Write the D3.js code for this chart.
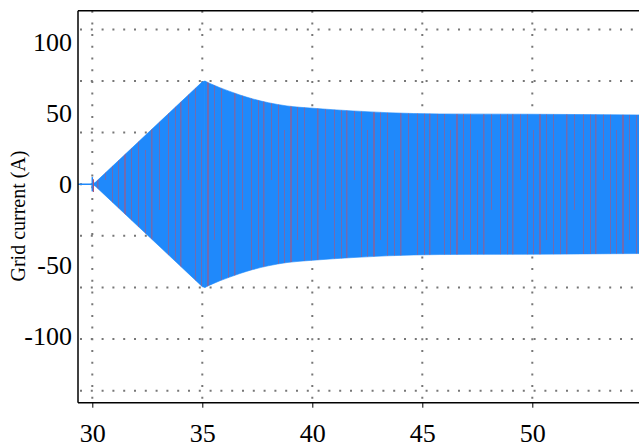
<!DOCTYPE html>
<html>
<head>
<meta charset="utf-8">
<script src="https://cdn.jsdelivr.net/npm/d3@7/dist/d3.min.js"></script>
<style>
  html, body { margin: 0; padding: 0; background: #fff; }
  svg { display: block; }
  svg text { font-family: 'Liberation Serif', 'DejaVu Serif', serif; }
</style>
</head>
<body>
<div id="chart"></div>
<script>
// ---- data ----
const xTicks = [30, 35, 40, 45, 50]
const yLabels = [100, 50, 0, -50, -100]
const yGrid = [108.6, 72.4, 36.2, 0, -36.2, -72.4, -108.6, -144.8]

// current is zero before the converter switches on
const preTime = [29.35, 30.0]
const preValue = [0, 0]
// short spike at switch-on
const spikeTime = [30.0, 30.0]
const spikeValue = [-5, 5]
// envelope (peak amplitude) of the grid current
const envTime = [30.0, 30.15, 35.0, 35.12, 35.3, 35.49, 35.80, 36.25, 36.71, 37.30, 38.0, 38.85, 40.03, 41.85, 43.40, 45.80, 49.90, 54.85]
const envAmp = [0, 1.5, 71.8, 72.4, 71.0, 69.7, 67.7, 65.1, 62.6, 59.8, 57.2, 54.9, 53.3, 51.4, 50.2, 49.3, 49.1, 48.6]

const W = 639, H = 448
const m = { l: 78, t: 10.7, b: 402.7 }
const blue = '#1f89fb'
const red = '#a9567f'
const serif = "'Liberation Serif', 'DejaVu Serif', serif"

const svg = d3.select('#chart').append('svg')
  .attr('width', W).attr('height', H)
  .attr('viewBox', [0, 0, W, H])

const x = d3.scaleLinear().domain([29.35, 54.85]).range([m.l, W])
const y = d3.scaleLinear().domain([-153.2, 121.7]).range([m.b, m.t])

// stripe texture (other phases peeking through the blue trace)
const defs = svg.append('defs')
const pat = defs.append('pattern')
  .attr('id', 'stripes')
  .attr('patternUnits', 'userSpaceOnUse')
  .attr('x', 0).attr('y', 60)
  .attr('width', 83).attr('height', 260)
const stripes = [[2, 0, 260, 1], [9, 40, 200, 1], [14, 0, 260, 1.5], [22, 0, 120, 1],
                 [29, 0, 260, 1], [35, 70, 230, 1], [41, 0, 260, 2], [48, 20, 180, 1],
                 [55, 0, 260, 1], [62, 90, 260, 1], [68, 0, 260, 1.5], [76, 10, 150, 1]]
stripes.forEach(s => {
  pat.append('rect').attr('x', s[0]).attr('y', s[1]).attr('width', s[3]).attr('height', s[2] - s[1])
    .attr('fill', red).attr('opacity', 0.6)
})

// grid
const grid = svg.append('g').attr('stroke', '#777').attr('stroke-width', 2)
grid.selectAll('.hg').data(yGrid).enter().append('line')
  .attr('class', 'hg')
  .attr('x1', m.l + 2).attr('x2', W)
  .attr('y1', d => y(d)).attr('y2', d => y(d))
  .attr('stroke-dasharray', '2,8.8')
grid.selectAll('.vg').data(xTicks).enter().append('line')
  .attr('class', 'vg')
  .attr('x1', d => x(d)).attr('x2', d => x(d))
  .attr('y1', m.t).attr('y2', m.b)
  .attr('stroke-dasharray', '2,9.7')

// signal band: linear ramp up to the peak, smooth decay after it
const env = envTime.map((t, i) => ({ t, a: envAmp[i] }))
const iPeak = d3.maxIndex(envAmp)
const rise = env.slice(0, iPeak + 1)
const decay = env.slice(iPeak)
const areaOf = curve => d3.area()
  .x(d => x(d.t))
  .y0(d => y(-d.a))
  .y1(d => y(d.a))
  .curve(curve)

const band = svg.append('g')
;[[rise, d3.curveLinear], [decay, d3.curveMonotoneX]].forEach(([seg, curve]) => {
  band.append('path').datum(seg).attr('d', areaOf(curve)).attr('fill', blue)
    .attr('stroke', blue).attr('stroke-width', 0.6)
})
;[[rise, d3.curveLinear], [decay, d3.curveMonotoneX]].forEach(([seg, curve]) => {
  band.append('path').datum(seg).attr('d', areaOf(curve)).attr('fill', 'url(#stripes)')
})

const line = d3.line().x(d => x(d[0])).y(d => y(d[1]))
svg.append('path')
  .datum(preTime.map((t, i) => [t, preValue[i]]))
  .attr('d', line).attr('stroke', blue).attr('stroke-width', 1.5).attr('fill', 'none')
svg.append('path')
  .datum(spikeTime.map((t, i) => [t, spikeValue[i]]))
  .attr('d', line).attr('stroke', blue).attr('stroke-width', 1.5).attr('fill', 'none')
svg.append('path')
  .datum(spikeTime.map((t, i) => [t + 0.05, spikeValue[i] * 0.9 - 1]))
  .attr('d', line).attr('stroke', red).attr('stroke-width', 1.2).attr('fill', 'none')

// spines
svg.append('line').attr('x1', m.l).attr('x2', m.l).attr('y1', m.t).attr('y2', m.b)
  .attr('stroke', '#000').attr('stroke-width', 1.5)
svg.append('line').attr('x1', m.l).attr('x2', W).attr('y1', m.t).attr('y2', m.t)
  .attr('stroke', '#000').attr('stroke-width', 1.5)
svg.append('line').attr('x1', m.l).attr('x2', W).attr('y1', m.b).attr('y2', m.b)
  .attr('stroke', '#000').attr('stroke-width', 1.5)

// x axis
const xAxis = svg.append('g')
  .attr('transform', `translate(0,${m.b})`)
  .call(d3.axisBottom(x).tickValues(xTicks).tickSize(5).tickFormat(d3.format('d')))
xAxis.attr('font-family', serif).attr('font-size', 26)
xAxis.select('.domain').remove()
xAxis.selectAll('line').attr('stroke', '#000').attr('stroke-width', 1)
xAxis.selectAll('text')
  .attr('y', 39).attr('dy', 0)
  .attr('fill', '#000')
  .style('font-family', serif)
  .style('font-size', '26px')

// y labels
svg.append('g').selectAll('text').data(yLabels).enter().append('text')
  .attr('x', 72)
  .attr('y', d => y(d) + 9 + (d < 0 ? 9 : 0))
  .attr('text-anchor', 'end')
  .style('font-family', serif)
  .style('font-size', '26px')
  .text(d => d)

// y title
svg.append('text')
  .attr('transform', 'translate(25,216) rotate(-90)')
  .attr('text-anchor', 'middle')
  .style('font-family', serif)
  .style('font-size', '20px')
  .text('Grid current (A)')
</script>
</body>
</html>
